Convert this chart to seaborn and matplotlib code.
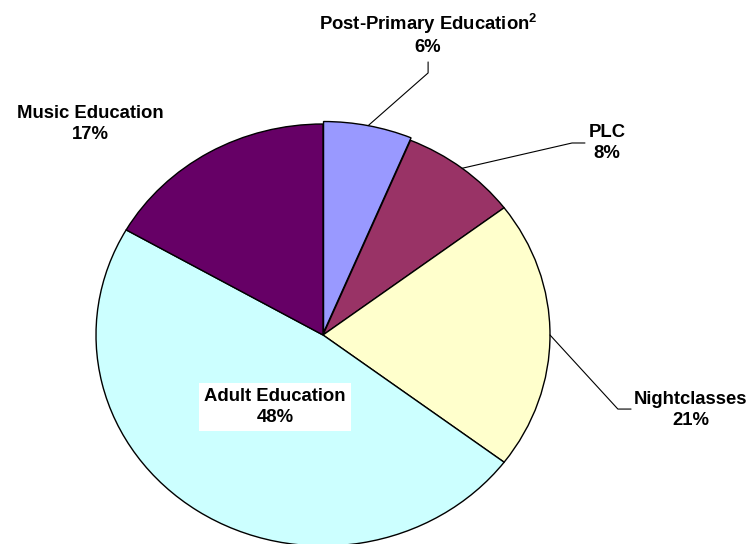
import numpy as np
import matplotlib.pyplot as plt
import seaborn as sns

labels = ["Post-Primary Education$^{\\mathbf{2}}$", "PLC", "Nightclasses",
          "Adult Education", "Music Education"]
shares = [6.3, 8.4, 20.6, 48.0, 16.7]
colors = ["#9999FF", "#993366", "#FFFFCC", "#CCFFFF", "#660066"]

sns.set_theme(style="white")
plt.rcParams["font.family"] = ["Liberation Sans", "DejaVu Sans"]
plt.rcParams["mathtext.fontset"] = "custom"
plt.rcParams["mathtext.bf"] = "Liberation Sans:bold"
plt.rcParams["mathtext.rm"] = "Liberation Sans"

fig = plt.figure(figsize=(7.53, 5.44), dpi=100)
ax = fig.add_axes([0, 0, 1, 1])

wedges, _ = ax.pie(shares, colors=sns.color_palette(colors), startangle=90,
                   counterclock=False, explode=[0.012, 0, 0, 0, 0],
                   wedgeprops=dict(edgecolor="black", linewidth=1))

# stretch into the slightly flat ellipse of the original
ax.set_aspect("auto")
ax.set_xlim(-323 / 227, 430 / 227)
ax.set_ylim(-209 / 211, 335 / 211)
ax.axis("off")

# label centre, then leader elbow / end (None = no leader)
text_pos = [(0.463, 1.427), (1.251, 0.91), (1.621, -0.355),
            (-0.211, -0.341), (-1.026, 1.0)]
leaders = [[(0.463, 1.242), (0.463, 1.294)],
           [(1.097, 0.91), (1.154, 0.91)],
           [(1.299, -0.351), (1.357, -0.351)],
           None, None]

cum = np.cumsum([0] + shares[:-1])
for i, (lab, val) in enumerate(zip(labels, shares)):
    txt = f"{lab}\n{val:.0f}%"
    kw = dict(ha="center", va="center", fontsize=13.3, fontweight="bold",
              color="black", linespacing=1.28)
    if lab.startswith("Adult"):
        kw["bbox"] = dict(boxstyle="square,pad=0.3", fc="white", ec="none")
    ax.text(*text_pos[i], txt, **kw)
    if leaders[i] is not None:
        mid = np.deg2rad(90 - 3.6 * (cum[i] + val / 2))
        r = 1.012 if i == 0 else 1.0
        pts = [(r * np.cos(mid), r * np.sin(mid))] + leaders[i]
        xs, ys = zip(*pts)
        ax.plot(xs, ys, color="black", lw=0.8)

fig.savefig("out.png", dpi=100)
